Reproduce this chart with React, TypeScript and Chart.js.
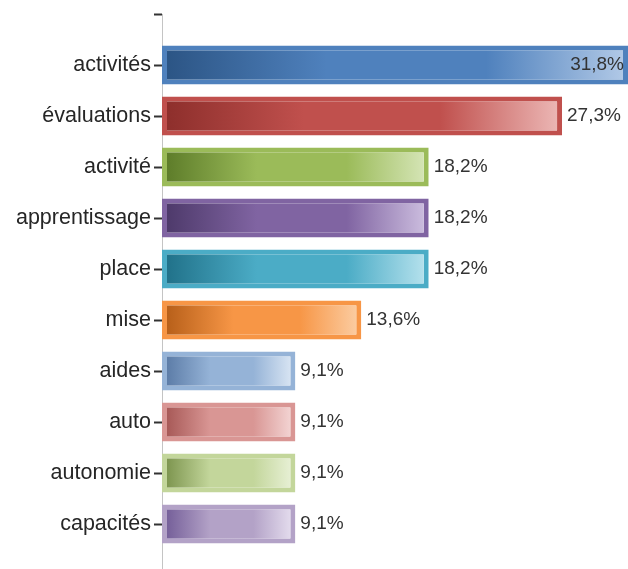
import React, { useEffect, useRef } from "react";
import { Chart, registerables } from "chart.js";

Chart.register(...registerables);

const categories = [
  "activités",
  "évaluations",
  "activité",
  "apprentissage",
  "place",
  "mise",
  "aides",
  "auto",
  "autonomie",
  "capacités",
];
const values = [31.8, 27.3, 18.2, 18.2, 18.2, 13.6, 9.1, 9.1, 9.1, 9.1];
const baseColors = [
  "#4F81BD",
  "#C0504D",
  "#9BBB59",
  "#8064A2",
  "#4BACC6",
  "#F79646",
  "#95B3D7",
  "#D99694",
  "#C3D69B",
  "#B3A2C7",
];
const darkColors = [
  "#2C5585",
  "#8E2F2C",
  "#5E7D2A",
  "#4E3A6B",
  "#21728A",
  "#B8601A",
  "#5D7DA8",
  "#A85A58",
  "#7E9650",
  "#76609A",
];
const lightColors = [
  "#B0C8E6",
  "#EBB5B3",
  "#D4E4B4",
  "#CABBDD",
  "#B3E0EC",
  "#FBCB9F",
  "#D6E3F2",
  "#F2D2D1",
  "#E6EFD3",
  "#E2DAEC",
];

const FONT = "'Liberation Sans', Arial, sans-serif";

export default function App() {
  const ref = useRef<HTMLCanvasElement>(null);

  useEffect(() => {
    if (!ref.current) return;
    const labels = ["", ...categories, ""];
    const data: (number | null)[] = [null, ...values, null];
    const colorAt = (arr: string[], i: number) => arr[Math.max(0, Math.min(arr.length - 1, i - 1))];

    const valueLabels = {
      id: "valueLabels",
      afterDatasetsDraw(chart: any) {
        const ctx = chart.ctx;
        const meta = chart.getDatasetMeta(0);
        const area = chart.chartArea;
        ctx.save();
        ctx.font = `19px ${FONT}`;
        ctx.fillStyle = "#333333";
        ctx.textBaseline = "middle";
        meta.data.forEach((el: any, i: number) => {
          const v = data[i];
          if (v == null) return;
          const { x, y } = el.getProps(["x", "y"], true);
          const text = v.toFixed(1).replace(".", ",") + "%";
          const w = ctx.measureText(text).width;
          if (x + 5 + w > area.right) {
            ctx.textAlign = "right";
            ctx.fillText(text, x - 4, y);
          } else {
            ctx.textAlign = "left";
            ctx.fillText(text, x + 5, y);
          }
        });
        ctx.restore();
      },
    };

    const chart = new Chart(ref.current, {
      type: "bar",
      data: {
        labels,
        datasets: [
          {
            data,
            borderWidth: 5,
            borderSkipped: false,
            borderColor: (c: any) => colorAt(baseColors, c.dataIndex),
            backgroundColor: (c: any) => {
              const i = c.dataIndex;
              const base = colorAt(baseColors, i);
              const chart = c.chart;
              const xs = chart.scales && chart.scales.x;
              const raw = c.raw;
              if (!xs || raw == null || !chart.chartArea) return base;
              const x0 = xs.getPixelForValue(0) + 5;
              const x1 = xs.getPixelForValue(raw) - 5;
              if (!(x1 > x0)) return base;
              const g = chart.ctx.createLinearGradient(x0, 0, x1, 0);
              g.addColorStop(0, colorAt(darkColors, i));
              g.addColorStop(0.35, base);
              g.addColorStop(0.7, base);
              g.addColorStop(1, colorAt(lightColors, i));
              return g;
            },
            barPercentage: 0.765,
            categoryPercentage: 1,
          },
        ],
      },
      options: {
        indexAxis: "y",
        animation: false,
        responsive: false,
        layout: { padding: { top: 14, bottom: 15, left: 0, right: 0 } },
        plugins: {
          legend: { display: false },
          tooltip: { enabled: false },
        },
        scales: {
          x: {
            display: false,
            min: 0,
            max: 31.8,
          },
          y: {
            type: "category",
            offset: false,
            grid: {
              display: true,
              offset: false,
              drawOnChartArea: false,
              tickLength: 8,
              tickWidth: 2,
              tickColor: "#333333",
              color: "#333333",
            },
            border: { display: true, color: "#c4c4c4", width: 1 },
            ticks: {
              padding: 3,
              color: "#262626",
              font: { family: FONT, size: 21.5 },
              autoSkip: false,
            },
            afterFit(scale: any) {
              scale.width = 162;
              scale.paddingTop = 0;
              scale.paddingBottom = 0;
            },
          },
        },
      },
      plugins: [valueLabels],
    } as any);
    return () => chart.destroy();
  }, []);

  return (
    <div
      style={{
        position: "absolute",
        left: 0,
        top: 0,
        width: 628,
        height: 569,
        overflow: "hidden",
        background: "#ffffff",
      }}
    >
      <canvas ref={ref} width={628} height={590} style={{ display: "block" }} />
    </div>
  );
}
